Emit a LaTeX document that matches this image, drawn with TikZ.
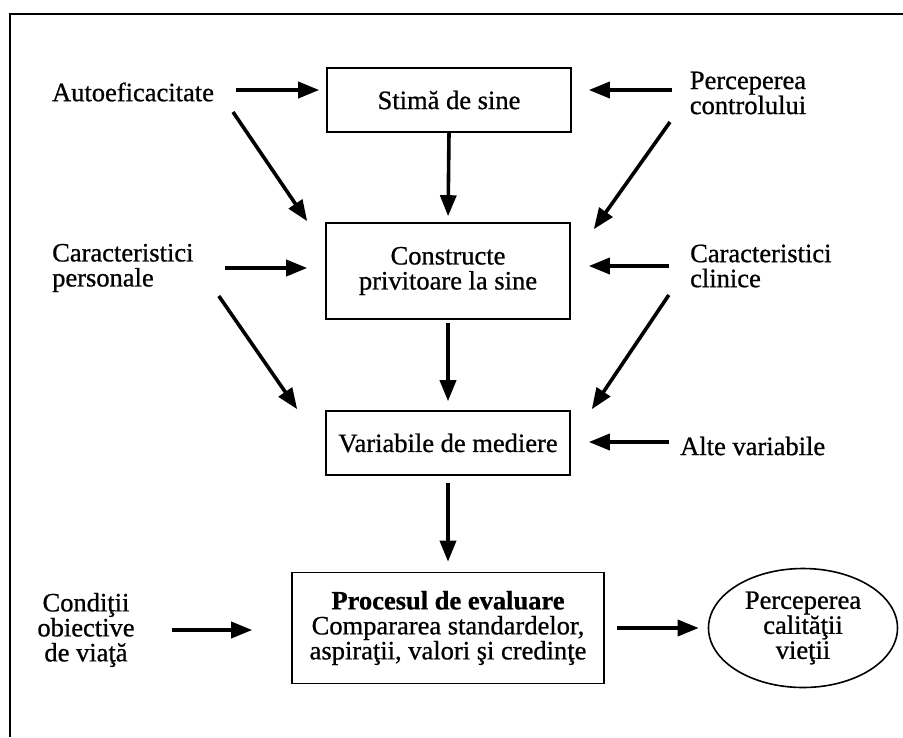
\documentclass[tikz,border=0pt]{standalone}
\usepackage{fontspec}
\setmainfont{Liberation Serif}[FakeBold=0.8]
\usetikzlibrary{arrows.meta,shapes.geometric}
\tikzset{
  txt/.style={inner sep=0pt, font=\fontsize{26.5pt}{25pt}\selectfont},
  boxnode/.style={draw, line width=1.6pt, inner sep=0pt, align=center,
    font=\fontsize{26.5pt}{25pt}\selectfont},
  arr/.style={line width=3.6pt, -{Triangle[length=21pt,width=16pt]}},
  framel/.style={line width=1.3pt}
}
\begin{document}
\begin{tikzpicture}[x=1pt,y=-1pt]
\useasboundingbox (0,0) rectangle (903,737);
\fill[white] (0,0) rectangle (903,737);
% frame
\draw[framel] (10,737) -- (10,14) -- (903,14);
% boxes
\node[boxnode, minimum width=244pt, minimum height=64pt] (stima) at (449,100) {Stimă de sine};
\node[boxnode, minimum width=244pt, minimum height=96pt] (constr) at (448,271) {Constructe\\privitoare la sine};
\node[boxnode, minimum width=244pt, minimum height=64pt] (var) at (448,443) {Variabile de mediere};
\node[boxnode, minimum width=312pt, minimum height=111pt] (proc) at (448,628)
  {\textbf{Procesul de evaluare}\\Compararea standardelor,\\aspiraţii, valori şi credinţe};
\node[boxnode, ellipse, minimum width=189pt, minimum height=119pt] (calit) at (803,628)
  {Perceperea\\calităţii\\vieţii};
% text nodes
\node[txt] (auto) at (133,92) {Autoeficacitate};
\node[txt, align=left] (perc) at (748,93) {Perceperea\\controlului};
\node[txt, align=left, anchor=west] (carp) at (52,268) {Caracteristici\\personale};
\node[txt, align=left, anchor=west] (carc) at (690,266) {Caracteristici\\clinice};
\node[txt, anchor=west] (alte) at (680,446) {Alte variabile};
\node[txt, align=center] (cond) at (86,630) {Condiţii\\obiective\\de viaţă};
% connectors
\draw[arr, shorten <=22pt, shorten >=7pt] ([yshift=2pt]auto.east) -- ([yshift=2pt]auto.east -| stima.west);
\draw[arr, shorten <=18pt, shorten >=17pt] ([yshift=3pt]perc.west) -- ([yshift=3pt]perc.west -| stima.east);
\draw[arr] ([xshift=100pt,yshift=-20pt]auto.center) -- ([xshift=-18pt,yshift=1pt]constr.north west);
\draw[arr] ([xshift=-78pt,yshift=-29pt]perc.center) -- ([xshift=23pt,yshift=-7pt]constr.north east);
\draw[arr, shorten >=6pt] (stima.south) -- (constr.north);
\draw[arr, shorten <=31pt, shorten >=18pt] (carp.east) -- (carp.east -| constr.west);
\draw[arr, shorten <=21pt, shorten >=18pt] (carc.west) -- (carc.west -| constr.east);
\draw[arr] ([xshift=96pt,yshift=-28pt]carp.center) -- ([xshift=-28pt,yshift=1pt]var.north west);
\draw[arr] ([xshift=-92pt,yshift=-29pt]carc.center) -- ([xshift=21pt,yshift=1pt]var.north east);
\draw[arr, shorten <=3pt, shorten >=9pt] (constr.south) -- (var.north);
\draw[arr, shorten <=11pt, shorten >=18pt] ([yshift=4pt]alte.west) -- ([yshift=4pt]alte.west -| var.east);
\draw[arr, shorten <=7pt, shorten >=10pt] (var.south) -- (proc.north);
\draw[arr, shorten <=37pt, shorten >=39pt] (cond.east) -- (cond.east -| proc.west);
\draw[arr, shorten <=12pt, shorten >=9pt] (proc.east) -- (calit.west);
\end{tikzpicture}
\end{document}
